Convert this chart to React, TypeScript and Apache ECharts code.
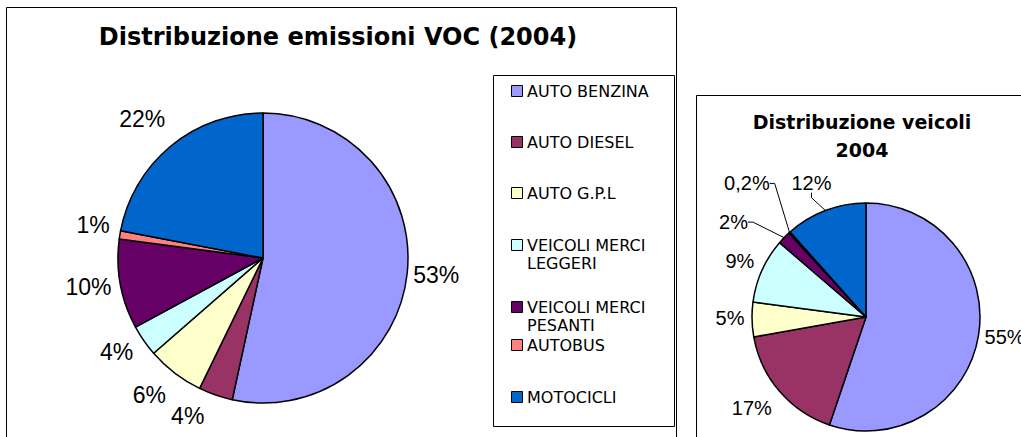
import React, { useEffect, useRef } from 'react';
import * as echarts from 'echarts';

// ---------- data ----------
const categories = [
  'AUTO BENZINA',
  'AUTO DIESEL',
  'AUTO G.P.L',
  'VEICOLI MERCI LEGGERI',
  'VEICOLI MERCI PESANTI',
  'AUTOBUS',
  'MOTOCICLI',
];
const vocShares = [53.4, 3.8, 6.4, 3.5, 10.0, 0.9, 22.0];
const vehicleShares = [55.2, 17.0, 4.9, 9.2, 1.9, 0.2, 11.6];
const titleVoc = 'Distribuzione emissioni VOC (2004)';
const titleVehicles = 'Distribuzione veicoli\n2004';

// ---------- style ----------
const palette = ['#9999FF', '#993366', '#FFFFCC', '#CCFFFF', '#660066', '#FF8080', '#0066CC'];
const LEFT = {
  cx: 263, cy: 258, r: 145,
  gap: [29, 30, 33, 29, 32, 28, 39],
  turn: [-0.5, 6.4, 2.2, 2, 1, 1.8, -1.4],
};
const RIGHT = {
  cx: 866, cy: 317, r: 114,
  gap: [26, 32, 22, 24, 49, 65, 31],
  turn: [-1.2, 2.1, 0.9, -0.1, -8.5, 0.4, -1.2],
  lines: [4, 5, 6],
};
const legendRowY = [91, 142, 193, 245, 307, 345, 397];
const legendLineHeight = 18;

const fmtPct = (v: number) =>
  (Math.round(v) === 0 ? v.toFixed(1).replace('.', ',') : String(Math.round(v))) + '%';

function midAngles(values: number[]) {
  const total = values.reduce((a, b) => a + b, 0);
  let acc = 0;
  return values.map((v) => {
    const m = ((acc + v / 2) / total) * 2 * Math.PI;
    acc += v;
    return m;
  });
}

function placeLabel(cfg: any, values: number[]) {
  const mids = midAngles(values);
  return (p: any) => {
    const i = p.dataIndex;
    const a = mids[i] + (cfg.turn[i] * Math.PI) / 180;
    const d = cfg.r + cfg.gap[i];
    return {
      x: cfg.cx + d * Math.sin(a),
      y: cfg.cy - d * Math.cos(a),
      align: 'center',
      verticalAlign: 'middle',
    };
  };
}

export default function App() {
  const ref = useRef<HTMLDivElement>(null);

  useEffect(() => {
    if (!ref.current) return;
    const chart = echarts.init(ref.current, undefined, { renderer: 'svg' });

    const legendItems: any[] = [];
    categories.forEach((name, i) => {
      const y = legendRowY[i];
      legendItems.push({
        type: 'rect',
        shape: { x: 511.5, y: y - 5.5, width: 11, height: 11 },
        style: { fill: palette[i], stroke: '#000', lineWidth: 1 },
      });
      legendItems.push({
        type: 'text',
        style: {
          text: name.replace(/^(VEICOLI MERCI) /, '$1\n'),
          x: 527,
          y: y - legendLineHeight / 2,
          fontFamily: 'DejaVu Sans',
          fontSize: 16,
          lineHeight: legendLineHeight,
          fill: '#000',
          verticalAlign: 'top',
          align: 'left',
        },
      });
    });

    const option: any = {
      animation: false,
      backgroundColor: '#fff',
      graphic: [
        {
          type: 'rect',
          shape: { x: 6.5, y: 7.5, width: 670, height: 440 },
          style: { fill: 'none', stroke: '#000', lineWidth: 1 },
        },
        {
          type: 'rect',
          shape: { x: 696.5, y: 95.5, width: 400, height: 400 },
          style: { fill: 'none', stroke: '#000', lineWidth: 1 },
        },
        {
          type: 'rect',
          shape: { x: 493.5, y: 75.5, width: 181, height: 351 },
          style: { fill: '#fff', stroke: '#000', lineWidth: 1 },
        },
        {
          type: 'text',
          style: {
            text: titleVoc,
            x: 338,
            y: 37,
            align: 'center',
            verticalAlign: 'middle',
            fontFamily: 'DejaVu Sans',
            fontWeight: 'bold',
            fontSize: 24,
            fill: '#000',
          },
        },
        {
          type: 'text',
          style: {
            text: titleVehicles,
            x: 862,
            y: 136,
            align: 'center',
            verticalAlign: 'middle',
            fontFamily: 'DejaVu Sans',
            fontWeight: 'bold',
            fontSize: 19,
            lineHeight: 28,
            fill: '#000',
          },
        },
        ...legendItems,
      ],
      series: [
        {
          type: 'pie',
          center: [LEFT.cx, LEFT.cy],
          radius: LEFT.r,
          startAngle: 90,
          clockwise: true,
          avoidLabelOverlap: false,
          itemStyle: { borderColor: '#000', borderWidth: 1.5 },
          label: {
            show: true,
            position: 'outside',
            formatter: (p: any) => fmtPct(p.value),
            fontFamily: 'Liberation Sans',
            fontSize: 23,
            color: '#000',
          },
          labelLine: { show: false },
          labelLayout: placeLabel(LEFT, vocShares),
          emphasis: { disabled: true },
          data: categories.map((name, i) => ({
            name,
            value: vocShares[i],
            itemStyle: { color: palette[i] },
          })),
        },
        {
          type: 'pie',
          center: [RIGHT.cx, RIGHT.cy],
          radius: RIGHT.r,
          startAngle: 90,
          clockwise: true,
          avoidLabelOverlap: false,
          itemStyle: { borderColor: '#000', borderWidth: 1.5 },
          label: {
            show: true,
            position: 'outside',
            formatter: (p: any) => fmtPct(p.value),
            fontFamily: 'Liberation Sans',
            fontSize: 20,
            color: '#000',
          },
          labelLine: {
            show: false,
            length: 4,
            length2: 5,
            lineStyle: { color: '#000', width: 1 },
          },
          labelLayout: placeLabel(RIGHT, vehicleShares),
          emphasis: { disabled: true },
          data: categories.map((name, i) => ({
            name,
            value: vehicleShares[i],
            itemStyle: { color: palette[i] },
            labelLine: { show: RIGHT.lines.includes(i) },
          })),
        },
      ],
    };

    chart.setOption(option);
    return () => chart.dispose();
  }, []);

  return (
    <div
      ref={ref}
      style={{ position: 'absolute', left: 0, top: 0, width: 1021, height: 437, background: '#fff' }}
    />
  );
}
